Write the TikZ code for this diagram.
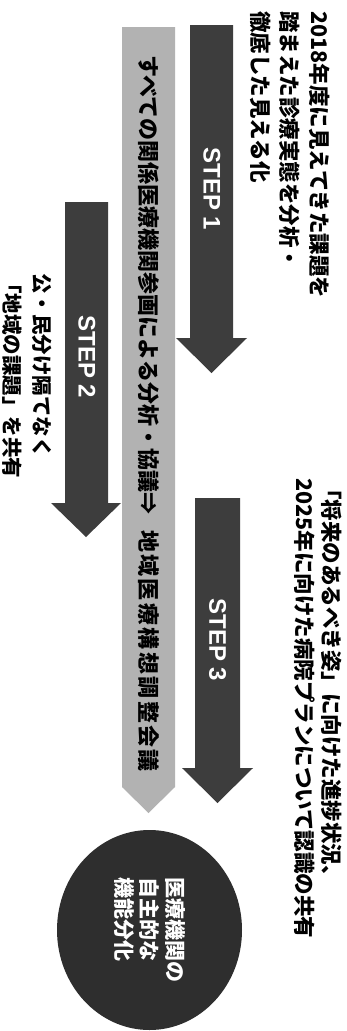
\documentclass[tikz,border=0pt]{standalone}
\usepackage{fontspec}
\usetikzlibrary{shapes.geometric}
\newfontfamily\jp{Noto Sans CJK JP}
\newfontfamily\stepfont{Liberation Sans}
\definecolor{stepgray}{gray}{0.24}
\definecolor{bandgray}{gray}{0.70}
\definecolor{goalgray}{gray}{0.18}
\begin{document}
\begin{tikzpicture}[x=1pt,y=-1pt,
  steplabel/.style={rotate=-90, inner sep=0pt, text=white, font=\stepfont\bfseries\fontsize{24}{24}\selectfont},
  vtext/.style={rotate=-90, inner sep=0pt, anchor=west, align=left},
  stepfill/.style={fill=stepgray},
  bandfill/.style={fill=bandgray}]
\useasboundingbox (0,0) rectangle (347,1031);
\fill[white] (0,0) rectangle (347,1031);

% light band arrow
\fill[bandfill] (122,27) -- (175,27) -- (175,787) -- (148.5,813) -- (122,787) -- cycle;
% STEP arrows
\fill[stepfill] (190,25) -- (233,25) -- (233,338) -- (247,338) -- (211.5,373) -- (176,338) -- (190,338) -- cycle;
\fill[stepfill] (65,202) -- (108,202) -- (108,503) -- (121,503) -- (86,537) -- (51,503) -- (65,503) -- cycle;
\fill[stepfill] (195,498) -- (240,498) -- (240,768) -- (253,768) -- (217.5,803) -- (182,768) -- (195,768) -- cycle;

\node[steplabel] (s1) at (212,189) {STEP 1};
\node[steplabel] (s2) at (87,357) {STEP 2};
\node[steplabel] (s3) at (217.5,640) {STEP 3};

\node[vtext, font=\jp\bfseries\fontsize{22}{22}\selectfont] (band) at (148.5,55)
  {すべての関係医療機関参画による分析・協議⇒\hspace{16pt}{\addfontfeature{LetterSpace=11}地域医療構想調整会議}};

\node[vtext, font=\jp\bfseries\fontsize{21.5}{29.5}\selectfont] (t1) at (290,11)
  {2018年度に見えてきた課題を\\踏まえた診療実態を分析・\\徹底した見える化};

\node[vtext, font=\jp\bfseries\fontsize{20.5}{30}\selectfont] (t2) at (27,273)
  {公・民分け隔てなく\\「地域の課題」を共有};

\node[vtext, font=\jp\bfseries\fontsize{21.5}{27}\selectfont] (t3) at (318.5,478)
  {「将来のあるべき姿」に向けた進捗状況、\\2025年に向けた病院プランについて認識の共有};

\node[ellipse, rotate=-90, fill=goalgray, inner sep=0pt, minimum width=200pt, minimum height=185pt,
  text=white, align=left, font=\jp\bfseries\fontsize{21}{25.5}\selectfont] (goal) at (149.5,930)
  {医療機関の\\自主的な\\機能分化};
\end{tikzpicture}
\end{document}
